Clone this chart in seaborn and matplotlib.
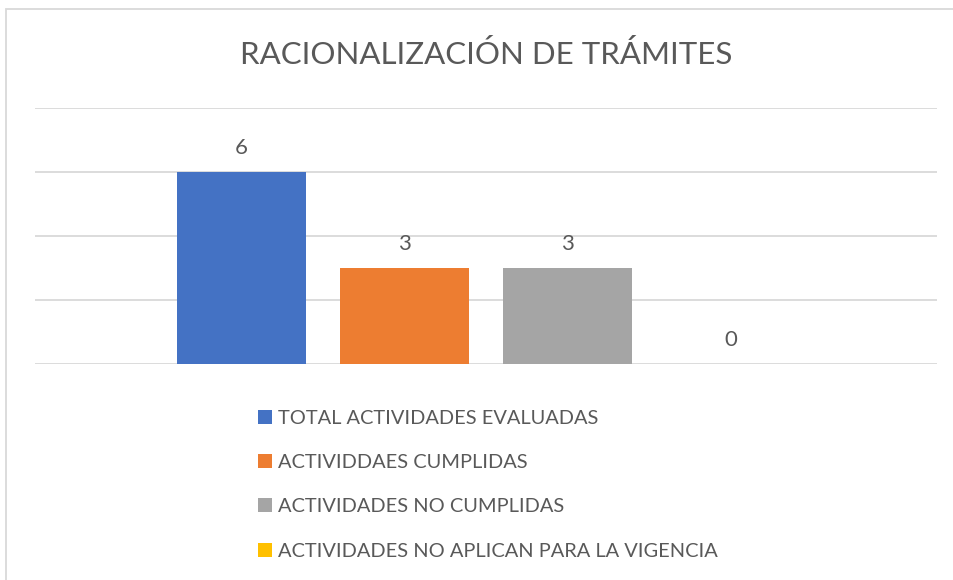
import pandas as pd
import seaborn as sns
import matplotlib.pyplot as plt
from matplotlib.patches import Patch, Rectangle

sns.set_style("white")
plt.rcParams['font.family'] = ['Lato', 'DejaVu Sans']

# Data
series = ['TOTAL ACTIVIDADES EVALUADAS', 'ACTIVIDDAES CUMPLIDAS',
          'ACTIVIDADES NO CUMPLIDAS', 'ACTIVIDADES NO APLICAN PARA LA VIGENCIA']
values = [6, 3, 3, 0]
colors = ['#4472C4', '#ED7D31', '#A5A5A5', '#FFC000']

text_color = '#595959'
grid_color = '#D9D9D9'

df = pd.DataFrame({'grupo': [''] * len(series), 'serie': series, 'valor': values})

fig = plt.figure(figsize=(9.54, 5.8), dpi=100)
ax = fig.add_axes([35 / 954, 1 - 364 / 580, 902 / 954, 256 / 580])

sns.barplot(data=df, x='grupo', y='valor', hue='serie', hue_order=series,
            palette=colors, width=0.723, gap=0.209, legend=False, ax=ax,
            saturation=1, edgecolor='none')

ax.set_xlim(-0.5, 0.5)
ax.set_ylim(0, 8)
ax.set_yticks([0, 2, 4, 6, 8])
ax.yaxis.grid(True, color=grid_color, linewidth=1.3)
ax.set_axisbelow(True)
ax.tick_params(left=False, bottom=False, labelleft=False, labelbottom=False)
ax.set_xlabel('')
ax.set_ylabel('')
for s in ax.spines.values():
    s.set_visible(False)

for cont in ax.containers:
    ax.bar_label(cont, padding=10, fontsize=16, color=text_color)

# title, centred over the plot area
fig.text(486 / 954, 1 - 54 / 580, 'RACIONALIZACIÓN DE TRÁMITES', ha='center', va='center',
         fontsize=22.5, color=text_color)

# legend below the plot
handles = [Patch(facecolor=c, edgecolor='none') for c in colors]
fig.legend(handles, series, loc='upper left', bbox_to_anchor=(250 / 954, 1 - 402 / 580),
           frameon=False, fontsize=14.4, labelcolor=text_color, handlelength=0.7,
           handleheight=0.7, handletextpad=0.3, labelspacing=1.36, borderaxespad=0)

# chart frame (only left and top edges visible in the crop)
fig.add_artist(Rectangle((6 / 954, -0.1), 1.2, 1 - 9 / 580 + 0.1, transform=fig.transFigure,
                         fill=False, edgecolor=grid_color, linewidth=1.3))

fig.savefig('out.png', dpi=100, facecolor='white')
